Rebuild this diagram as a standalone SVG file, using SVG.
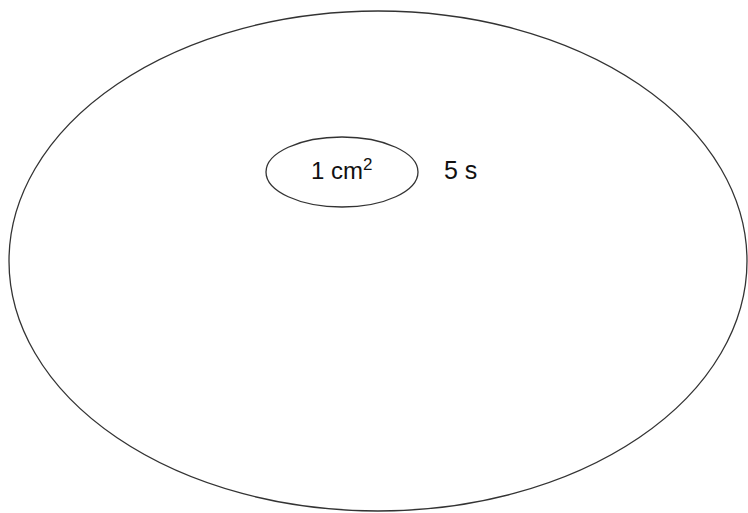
<svg xmlns="http://www.w3.org/2000/svg" width="748" height="513" viewBox="0 0 748 513">
<style>
.shape{fill:none;stroke:#333;stroke-width:1.3}
.lbl{font-family:"Liberation Sans",Arial,sans-serif;fill:#111}
</style>
<rect width="748" height="513" fill="#fff"/>
<g id="outer"><ellipse class="shape" cx="378" cy="261" rx="369" ry="250"/></g>
<g id="area"><ellipse class="shape" cx="342" cy="172" rx="76" ry="35"/>
<text class="lbl" x="311" y="179" font-size="24">1 cm<tspan font-size="17" dy="-9">2</tspan></text></g>
<g id="time"><text class="lbl" x="444" y="179" font-size="25">5 s</text></g>
<g id="connectors"/>
</svg>
